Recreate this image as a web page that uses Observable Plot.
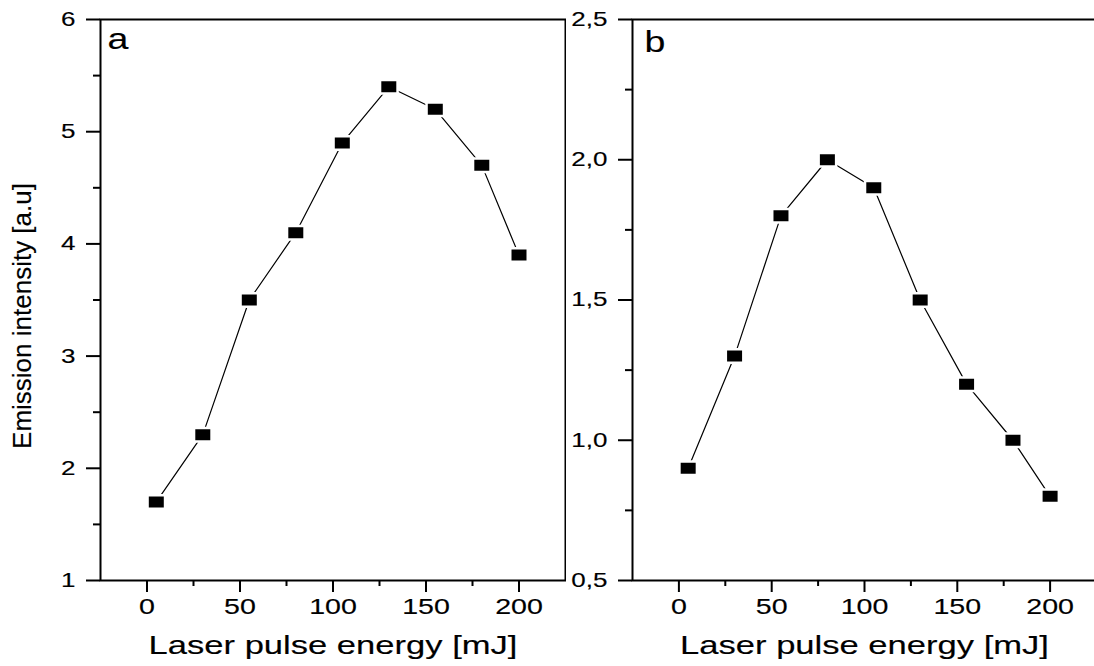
<!DOCTYPE html>
<html><head><meta charset="utf-8">
<script src="https://cdn.jsdelivr.net/npm/d3@7"></script>
<script src="https://cdn.jsdelivr.net/npm/@observablehq/plot@0.6"></script>
<style>
html,body{margin:0;padding:0;background:#fff;overflow:hidden;width:1094px;height:666px}
#wrap{position:relative;width:1094px;height:666px;overflow:hidden;background:#fff}
.panel{position:absolute;top:0}
.panel svg{max-width:none !important;overflow:visible}
</style></head><body>
<div id="wrap"><div class="panel" id="pa" style="left:0;width:566px"></div><div class="panel" id="pb" style="left:566px;width:530px"></div></div>
<script>
const energy = [5, 30, 55, 80, 105, 130, 155, 180, 200];
const intensityA = [1.7, 2.3, 3.5, 4.1, 4.9, 5.4, 5.2, 4.7, 3.9];
const intensityB = [0.9, 1.3, 1.8, 2.0, 1.9, 1.5, 1.2, 1.0, 0.8];
const xTicks = [0, 50, 100, 150, 200];
const xTickLabels = ["0", "50", "100", "150", "200"];
const xMinorTicks = [25, 75, 125, 175];
const yTicksA = [1, 2, 3, 4, 5, 6];
const yTickLabelsA = ["1", "2", "3", "4", "5", "6"];
const yMinorA = [1.5, 2.5, 3.5, 4.5, 5.5];
const yTicksB = [0.5, 1.0, 1.5, 2.0, 2.5];
const yTickLabelsB = ["0,5", "1,0", "1,5", "2,0", "2,5"];
const yMinorB = [0.75, 1.25, 1.75, 2.25];
const xLabel = "Laser pulse energy [mJ]";
const yLabel = "Emission intensity [a.u]";
const panelLabels = ["a", "b"];

const rectSymbol = {
  draw(ctx) {
    ctx.moveTo(-8.75, -6.75); ctx.lineTo(8.75, -6.75); ctx.lineTo(8.75, 6.75); ctx.lineTo(-8.75, 6.75); ctx.closePath();
  }
};

function stretch(el, sx) {
  const t = el.getAttribute("transform") || "";
  el.setAttribute("transform", (t + ` scale(${sx},1)`).trim());
}

function panel({width, marginLeft, yDomain, yTicks, yLabels, yMinor, values, label, labelDx, labelDy, showYLabel}) {
  const data = energy.map((e, i) => ({energy: e, value: values[i]}));
  const ts = {fill: "black", stroke: "black", strokeWidth: 0.15};
  const marks = [
    Plot.frame({stroke: "black", strokeWidth: 2}),
    Plot.axisX({ticks: xTicks, tickSize: 12, tickFormat: () => "", label: null, strokeWidth: 2}),
    Plot.axisX({ticks: xMinorTicks, tickSize: 6, tickFormat: () => "", label: null, strokeWidth: 2}),
    Plot.axisY({ticks: yTicks, tickSize: 14, tickFormat: () => "", label: null, strokeWidth: 2}),
    Plot.axisY({ticks: yMinor, tickSize: 7, tickFormat: () => "", label: null, strokeWidth: 2}),
    Plot.text(xTicks, {x: d => d, text: (d, i) => xTickLabels[i], frameAnchor: "bottom", dy: 18, lineAnchor: "top", textAnchor: "middle", fontSize: 22, ...ts}),
    Plot.text(yTicks, {y: d => d, text: (d, i) => yLabels[i], frameAnchor: "left", dx: -25, lineAnchor: "middle", textAnchor: "end", fontSize: 20, ...ts}),
    Plot.line(data, {x: "energy", y: "value", stroke: "black", strokeWidth: 1.2}),
    Plot.dot(data, {x: "energy", y: "value", symbol: rectSymbol, fill: "black", stroke: "white", strokeWidth: 2.5, r: 5}),
    Plot.text([label], {frameAnchor: "top-left", dx: labelDx, dy: labelDy, lineAnchor: "top", textAnchor: "start", fontSize: 30, ...ts}),
    Plot.text([xLabel], {frameAnchor: "bottom", dy: 65, lineAnchor: "middle", textAnchor: "middle", fontSize: 26, ...ts})
  ];
  if (showYLabel) marks.push(Plot.text([yLabel], {frameAnchor: "left", rotate: -90, dx: -78, dy: 16, lineAnchor: "middle", textAnchor: "middle", fontSize: 26, ...ts}));
  const svg = Plot.plot({
    width, height: 666, marginLeft, marginRight: width === 566 ? 1 : 0, marginTop: 19, marginBottom: 86,
    style: {fontFamily: "'Liberation Sans', Arial, sans-serif", background: "white", color: "black"},
    x: {domain: [-25, 225]},
    y: {domain: yDomain},
    marks
  });
  d3.select(svg).selectAll("text").each(function() {
    const t = this.textContent;
    if (t === xLabel) stretch(this, 1.33);
    else if (t === label) stretch(this, 1.25);
    else if (xTickLabels.includes(t) || yLabels.includes(t)) stretch(this, 1.3);
  });
  return svg;
}

document.getElementById("pa").append(panel({width: 566, marginLeft: 100, yDomain: [1, 6], yTicks: yTicksA, yLabels: yTickLabelsA, yMinor: yMinorA, values: intensityA, label: panelLabels[0], labelDx: 7, labelDy: 8, showYLabel: true}));
document.getElementById("pb").append(panel({width: 530, marginLeft: 66, yDomain: [0.5, 2.5], yTicks: yTicksB, yLabels: yTickLabelsB, yMinor: yMinorB, values: intensityB, label: panelLabels[1], labelDx: 12, labelDy: 11, showYLabel: false}));
</script>
</body></html>
